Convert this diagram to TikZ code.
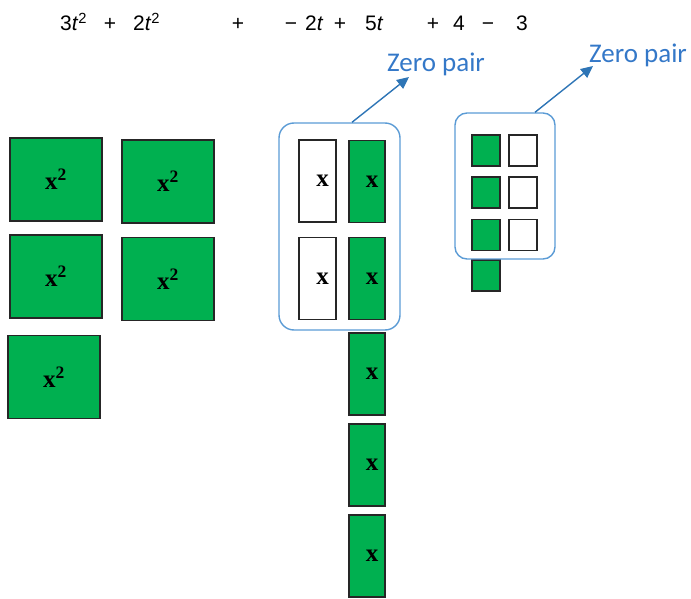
\documentclass[tikz,border=0pt]{standalone}
\usepackage{fontspec}
\setmainfont{Liberation Serif}
\newfontfamily\eqfont{Liberation Sans}
\newfontfamily\lblfont{Carlito}
\usetikzlibrary{arrows.meta}
\definecolor{tilegreen}{RGB}{0,176,80}
\definecolor{boxblue}{RGB}{91,155,213}
\definecolor{arrowblue}{RGB}{46,117,182}
\definecolor{textblue}{RGB}{52,120,200}
\begin{document}
\begin{tikzpicture}[x=1pt,y=-1pt,
  tile/.style={draw=black!85,line width=1.2pt,inner sep=0pt},
  bigsq/.style={tile,fill=tilegreen,minimum width=92pt,minimum height=83pt},
  xgreen/.style={tile,fill=tilegreen,minimum width=36pt,minimum height=82pt},
  xwhite/.style={tile,fill=white,minimum width=37pt,minimum height=82pt},
  onegreen/.style={tile,fill=tilegreen,minimum width=28pt,minimum height=31pt},
  onewhite/.style={tile,fill=white,minimum width=28pt,minimum height=31pt},
  sqlabel/.style={font=\fontsize{25}{25}\selectfont\bfseries,inner sep=0pt},
  xlabel/.style={font=\fontsize{25}{25}\selectfont\bfseries,inner sep=0pt},
  zbox/.style={draw=boxblue,line width=1.4pt,inner sep=0pt},
  zarrow/.style={draw=arrowblue,line width=1.4pt,-{Triangle[length=12pt,width=11pt]}},
  zlabel/.style={text=textblue,font=\lblfont\fontsize{27}{27}\selectfont,inner sep=0pt,anchor=base west},
  eq/.style={font=\eqfont\fontsize{21}{21}\selectfont,inner sep=0pt,anchor=base}
]
\useasboundingbox (0,0) rectangle (691,599);

% expression along the top
\node[eq,anchor=base west] (e1) at (60,31) {3\textit{t}\textsuperscript{2}};
\node[eq] (e2) at (110,31) {+};
\node[eq,anchor=base west] (e3) at (133,31) {2\textit{t}\textsuperscript{2}};
\node[eq] (e4) at (238,31) {+};
\node[eq] (e5) at (291,31) {−};
\node[eq,anchor=base west] (e6) at (305,31) {2\textit{t}};
\node[eq] (e7) at (340,31) {+};
\node[eq,anchor=base west] (e8) at (365,31) {5\textit{t}};
\node[eq] (e9) at (433,31) {+};
\node[eq] (e10) at (459,31) {4};
\node[eq] (e11) at (488,31) {−};
\node[eq] (e12) at (522,31) {3};

% x^2 tiles
\node[bigsq] (q1) at (56,179.5) {};
\node[bigsq] (q2) at (168,181.5) {};
\node[bigsq] (q3) at (56,276.5) {};
\node[bigsq] (q4) at (168,279) {};
\node[bigsq] (q5) at (54,377) {};
\foreach \q in {q1,q2,q3,q4,q5}
  \node[sqlabel] (\q l) at (\q.center) {x\textsuperscript{2}};

% x tiles (white = negative)
\node[xwhite] (w1) at (317.5,181) {};
\node[xwhite] (w2) at (317.5,278.5) {};
\node[xgreen] (g1) at (367,181.5) {};
\node[xgreen] (g2) at (367,278.5) {};
\node[xgreen] (g3) at (367,374) {};
\node[xgreen] (g4) at (367,465) {};
\node[xgreen] (g5) at (367,556) {};
\foreach \t in {w1,w2,g1,g2,g3,g4,g5}
  \node[xlabel] (\t l) at ([xshift=5pt]\t.center) {x};

% unit tiles
\node[onegreen] (u1) at (486,150.5) {};
\node[onegreen] (u2) at (486,192.5) {};
\node[onegreen] (u3) at (486,235) {};
\node[onegreen] (u4) at (486,275.5) {};
\node[onewhite] (n1) at (523,150.5) {};
\node[onewhite] (n2) at (523,192.5) {};
\node[onewhite] (n3) at (523,235) {};

% zero pair groupings
\node[zbox,rounded corners=15pt,minimum width=121pt,minimum height=207pt] (z1) at (339.5,226.5) {};
\node[zbox,rounded corners=12pt,minimum width=100pt,minimum height=146pt] (z2) at (505,186) {};

\node[zlabel] (t1) at (387,72) {Zero pair};
\node[zlabel] (t2) at (589,63) {Zero pair};
\coordinate (a1) at (409,77);
\coordinate (a2) at (593,66);
\draw[zarrow] ([xshift=12.5pt]z1.north) -- (a1);
\draw[zarrow] ([xshift=30pt]z2.north) -- (a2);
\end{tikzpicture}
\end{document}
